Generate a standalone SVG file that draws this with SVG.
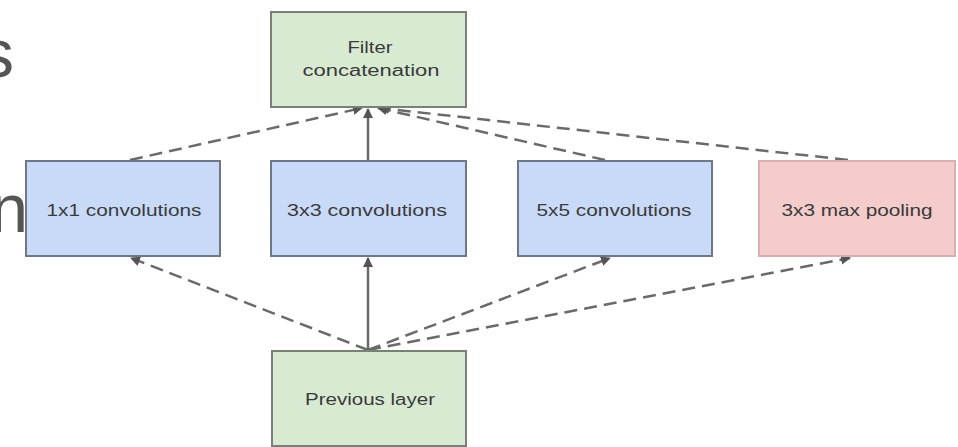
<svg xmlns="http://www.w3.org/2000/svg" width="958" height="447" viewBox="0 0 958 447">
  <defs>
    <style>
      .box { stroke: #7a7f7a; stroke-width: 2; }
      .green { fill: #d9ead3; }
      .blue { fill: #c9daf8; stroke: #6f7888; }
      .red { fill: #f4cccc; stroke: #d8b0b0; }
      .lbl { font-family: "Liberation Sans", Arial, sans-serif; font-size: 16px; fill: #3a3a3a; text-anchor: middle; }
      .big { font-family: "Liberation Sans", Arial, sans-serif; font-size: 68px; fill: #555555; text-anchor: end; }
      .edge { fill: none; stroke: #6a6a6a; stroke-width: 2.5; marker-end: url(#head); }
      .dash { stroke-dasharray: 13 7; }
    </style>
    <marker id="head" viewBox="0 0 10 10" refX="9" refY="5" markerWidth="4" markerHeight="4" orient="auto" markerUnits="strokeWidth">
      <path d="M0,0 L10,5 L0,10 z" fill="#555555"/>
    </marker>
  </defs>

  <rect width="958" height="447" fill="#ffffff"/>

  <!-- edge letters of the slide text -->
  <text class="big" x="14" y="77">s</text>
  <text class="big" x="28" y="232">n</text>

  <!-- connectors -->
  <g id="connectors">
    <path class="edge" d="M368,350 L368,258"/>
    <path class="edge dash" d="M368,350 L131,258"/>
    <path class="edge dash" d="M368,350 L610,258"/>
    <path class="edge dash" d="M368,350 L850,258"/>
    <path class="edge" d="M368,160 L368,109"/>
    <path class="edge dash" d="M130,160 L362,108"/>
    <path class="edge dash" d="M605,160 L378,108"/>
    <path class="edge dash" d="M848,160 L380,108"/>
  </g>

  <g id="filter-concat">
    <rect class="box green" x="271" y="12" width="195" height="95"/>
    <text class="lbl" x="370" y="53" textLength="45" lengthAdjust="spacingAndGlyphs">Filter</text>
    <text class="lbl" x="371" y="76" textLength="137" lengthAdjust="spacingAndGlyphs">concatenation</text>
  </g>

  <g id="conv1x1">
    <rect class="box blue" x="26" y="161" width="194" height="95"/>
    <text class="lbl" x="124" y="216" textLength="155" lengthAdjust="spacingAndGlyphs">1x1 convolutions</text>
  </g>

  <g id="conv3x3">
    <rect class="box blue" x="271" y="161" width="195" height="95"/>
    <text class="lbl" x="367" y="216" textLength="160" lengthAdjust="spacingAndGlyphs">3x3 convolutions</text>
  </g>

  <g id="conv5x5">
    <rect class="box blue" x="518" y="161" width="194" height="95"/>
    <text class="lbl" x="614" y="216" textLength="155" lengthAdjust="spacingAndGlyphs">5x5 convolutions</text>
  </g>

  <g id="maxpool">
    <rect class="box red" x="759" y="161" width="196" height="95"/>
    <text class="lbl" x="857" y="216" textLength="151" lengthAdjust="spacingAndGlyphs">3x3 max pooling</text>
  </g>

  <g id="previous-layer">
    <rect class="box green" x="272" y="351" width="194" height="95"/>
    <text class="lbl" x="370" y="405" textLength="130" lengthAdjust="spacingAndGlyphs">Previous layer</text>
  </g>
</svg>
